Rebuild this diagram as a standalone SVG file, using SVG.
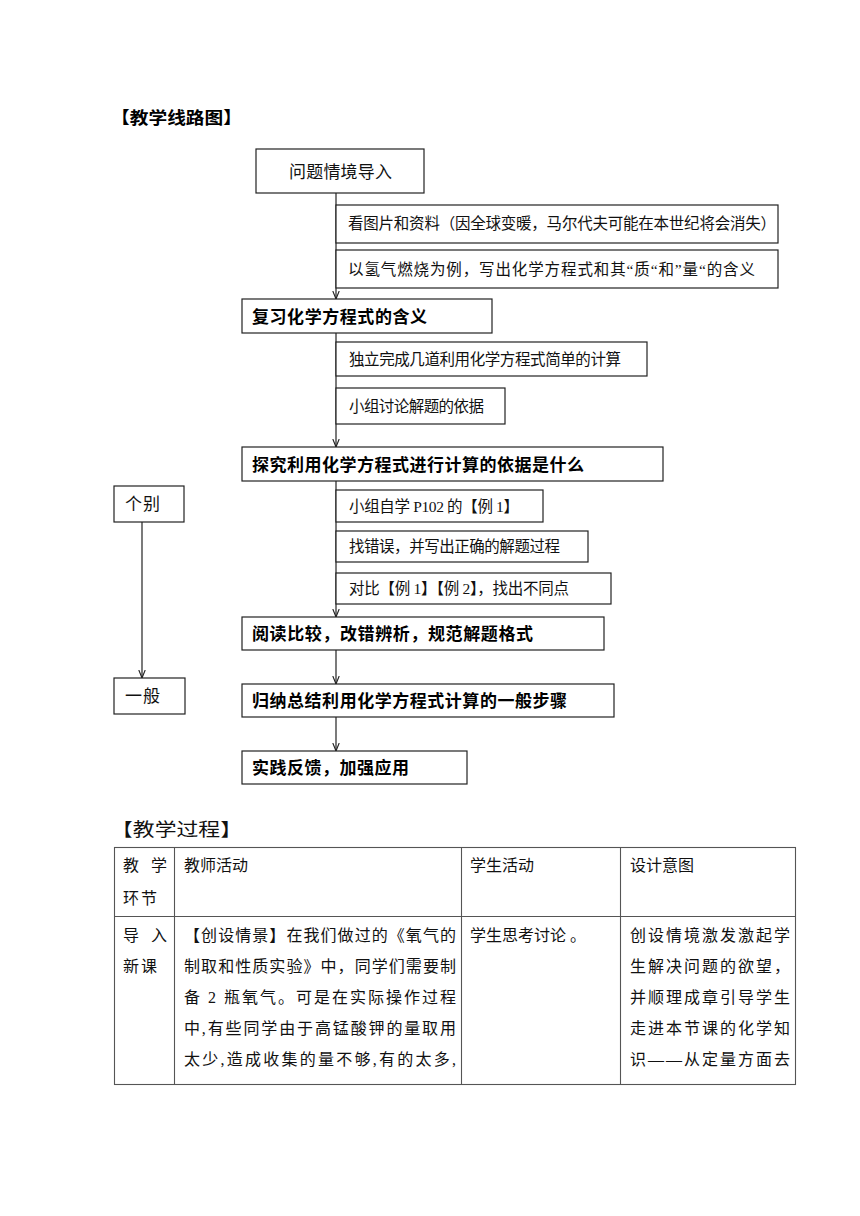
<svg xmlns="http://www.w3.org/2000/svg" width="860" height="1216" viewBox="0 0 860 1216">
<style>
.bg{fill:#fff}
.box{fill:#fff;stroke:#222;stroke-width:1.2}
.con{stroke:#222;stroke-width:1.2;fill:none}
.tl{stroke:#555;stroke-width:1.1;fill:none}
.song{font-family:"Liberation Serif","Noto Sans CJK SC",serif;font-size:15.5px;fill:#111}
.tb{font-family:"Liberation Serif","Noto Sans CJK SC",serif;font-size:16px;fill:#111}
.tt{font-family:"Noto Sans CJK SC",sans-serif;font-size:18px;fill:#111}
.hei{font-family:"Noto Sans CJK SC",sans-serif;font-size:17px;font-weight:bold;fill:#000}
.hei16{font-family:"Noto Sans CJK SC",sans-serif;font-size:17px;fill:#111}
</style>
<defs>
<marker id="arr" viewBox="0 0 10 10" refX="10" refY="5" markerWidth="8" markerHeight="8" markerUnits="userSpaceOnUse" orient="auto">
<path d="M0,1 L10,5 L0,9" fill="none" stroke="#222" stroke-width="1.4"/>
</marker>
</defs>
<rect class="bg" x="0" y="0" width="860" height="1216"/>

<text class="hei" x="111" y="124" textLength="131" lengthAdjust="spacingAndGlyphs">【教学线路图】</text>

<g id="connectors">
<line class="con" x1="336" y1="193" x2="336" y2="299" marker-end="url(#arr)"/>
<line class="con" x1="336" y1="333" x2="336" y2="447" marker-end="url(#arr)"/>
<line class="con" x1="336" y1="481" x2="336" y2="617" marker-end="url(#arr)"/>
<line class="con" x1="336" y1="650" x2="336" y2="684" marker-end="url(#arr)"/>
<line class="con" x1="336" y1="717" x2="336" y2="751" marker-end="url(#arr)"/>
<line class="con" x1="142" y1="522" x2="142" y2="678" marker-end="url(#arr)"/>
</g>

<g id="n1"><rect class="box" x="256" y="149" width="168" height="44"/><text class="hei16" x="289" y="177.5" textLength="103" lengthAdjust="spacing">问题情境导入</text></g>
<g id="n2"><rect class="box" x="336" y="205" width="442" height="38"/><text class="song" x="348" y="229" textLength="428" lengthAdjust="spacing">看图片和资料（因全球变暖，马尔代夫可能在本世纪将会消失）</text></g>
<g id="n3"><rect class="box" x="336" y="250" width="442" height="38"/><text class="song" x="348" y="274.5" textLength="407" lengthAdjust="spacing">以氢气燃烧为例，写出化学方程式和其“质“和”量“的含义</text></g>
<g id="n4"><rect class="box" x="242" y="299" width="250" height="34"/><text class="hei" x="252" y="322.5" textLength="175" lengthAdjust="spacing">复习化学方程式的含义</text></g>
<g id="n5"><rect class="box" x="336" y="342" width="311" height="34"/><text class="song" x="349" y="364.5" textLength="272" lengthAdjust="spacing">独立完成几道利用化学方程式简单的计算</text></g>
<g id="n6"><rect class="box" x="336" y="388" width="169" height="36"/><text class="song" x="349" y="411.5" textLength="135" lengthAdjust="spacing">小组讨论解题的依据</text></g>
<g id="n7"><rect class="box" x="242" y="447" width="421" height="34"/><text class="hei" x="252" y="470.5" textLength="332" lengthAdjust="spacing">探究利用化学方程式进行计算的依据是什么</text></g>
<g id="n8"><rect class="box" x="114" y="486" width="70" height="36"/><text class="hei16" x="125" y="510" textLength="35" lengthAdjust="spacing">个别</text></g>
<g id="n9"><rect class="box" x="336" y="490" width="207" height="32"/><text class="song" x="349" y="512" textLength="170" lengthAdjust="spacing">小组自学 P102 的【例 1】</text></g>
<g id="n10"><rect class="box" x="336" y="531" width="252" height="31"/><text class="song" x="349" y="552" textLength="211" lengthAdjust="spacing">找错误，并写出正确的解题过程</text></g>
<g id="n11"><rect class="box" x="336" y="573" width="275" height="31"/><text class="song" x="349" y="594" textLength="220" lengthAdjust="spacing">对比【例 1】【例 2】，找出不同点</text></g>
<g id="n12"><rect class="box" x="242" y="617" width="362" height="33"/><text class="hei" x="252" y="639.5" textLength="281" lengthAdjust="spacing">阅读比较，改错辨析，规范解题格式</text></g>
<g id="n13"><rect class="box" x="114" y="678" width="71" height="36"/><text class="hei16" x="125" y="702" textLength="35" lengthAdjust="spacing">一般</text></g>
<g id="n14"><rect class="box" x="242" y="684" width="372" height="33"/><text class="hei" x="252" y="707" textLength="315" lengthAdjust="spacing">归纳总结利用化学方程式计算的一般步骤</text></g>
<g id="n15"><rect class="box" x="242" y="751" width="225" height="33"/><text class="hei" x="252" y="774" textLength="157" lengthAdjust="spacing">实践反馈，加强应用</text></g>

<text class="tt" x="111" y="836" textLength="131" lengthAdjust="spacingAndGlyphs">【教学过程】</text>

<g id="table">
<rect class="tl" x="114.5" y="847.5" width="681" height="237"/>
<line class="tl" x1="114.5" y1="916.5" x2="795.5" y2="916.5"/>
<line class="tl" x1="174.5" y1="847.5" x2="174.5" y2="1084.5"/>
<line class="tl" x1="461.5" y1="847.5" x2="461.5" y2="1084.5"/>
<line class="tl" x1="620.5" y1="847.5" x2="620.5" y2="1084.5"/>
<text class="tb" x="123" y="871" textLength="44" lengthAdjust="spacing">教 学</text>
<text class="tb" x="123" y="904" textLength="34" lengthAdjust="spacing">环节</text>
<text class="tb" x="184" y="871">教师活动</text>
<text class="tb" x="470" y="871">学生活动</text>
<text class="tb" x="630" y="871">设计意图</text>
<text class="tb" x="123" y="941" textLength="44" lengthAdjust="spacing">导 入</text>
<text class="tb" x="123" y="972" textLength="34" lengthAdjust="spacing">新课</text>
<text class="tb" x="184" y="941" textLength="272" lengthAdjust="spacing">【创设情景】在我们做过的《氧气的</text>
<text class="tb" x="184" y="972" textLength="272" lengthAdjust="spacing">制取和性质实验》中，同学们需要制</text>
<text class="tb" x="184" y="1003" textLength="272" lengthAdjust="spacing">备 2 瓶氧气。可是在实际操作过程</text>
<text class="tb" x="184" y="1034" textLength="272" lengthAdjust="spacing">中,有些同学由于高锰酸钾的量取用</text>
<text class="tb" x="184" y="1065" textLength="272" lengthAdjust="spacing">太少,造成收集的量不够,有的太多,</text>
<text class="tb" x="470" y="941">学生思考讨论 。</text>
<text class="tb" x="630" y="941" textLength="160" lengthAdjust="spacing">创设情境激发激起学</text>
<text class="tb" x="630" y="972" textLength="160" lengthAdjust="spacing">生解决问题的欲望，</text>
<text class="tb" x="630" y="1003" textLength="160" lengthAdjust="spacing">并顺理成章引导学生</text>
<text class="tb" x="630" y="1034" textLength="160" lengthAdjust="spacing">走进本节课的化学知</text>
<text class="tb" x="630" y="1065" textLength="160" lengthAdjust="spacing">识——从定量方面去</text>
</g>
</svg>
